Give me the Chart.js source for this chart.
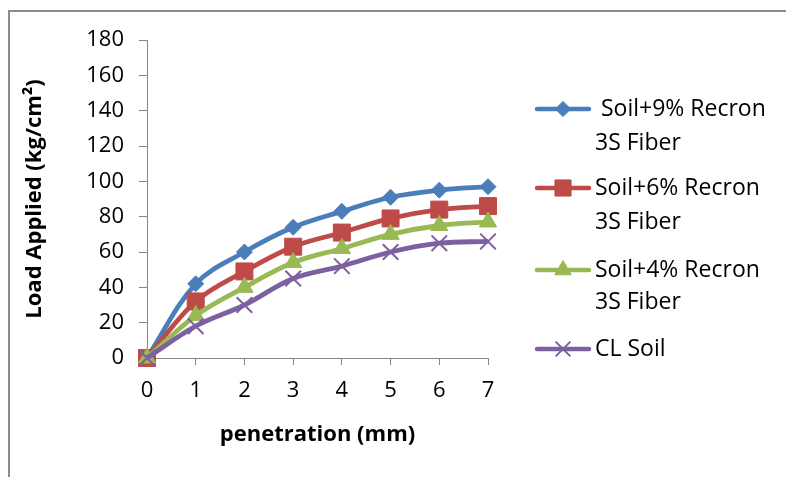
<!DOCTYPE html>
<html>
<head>
<meta charset="utf-8">
<script src="https://cdn.jsdelivr.net/npm/chart.js@4.4.1/dist/chart.umd.min.js"></script>
<style>
  html, body { margin: 0; padding: 0; background: #fff; }
  #wrap { width: 787px; height: 477px; position: relative; }
</style>
</head>
<body>
<div id="wrap"><canvas id="cbr"></canvas></div>
<script>
// penetration (mm)
const penetration = [0, 1, 2, 3, 4, 5, 6, 7];
// load applied (kg/cm2) for each mix
const recron9 = [0, 42, 60, 74, 83, 91, 95, 97];
const recron6 = [0, 32, 49, 63, 71, 79, 84, 86];
const recron4 = [0, 24, 40, 54, 62, 70, 75, 77];
const clSoil = [0, 18, 30, 45, 52, 60, 65, 66];
const seriesNames = [
  [' Soil+9% Recron', '3S Fiber'],
  ['Soil+6% Recron', '3S Fiber'],
  ['Soil+4% Recron', '3S Fiber'],
  ['CL Soil']
];
const yTicks = [0, 20, 40, 60, 80, 100, 120, 140, 160, 180];

const FONT = '"Open Sans", "Liberation Sans", sans-serif';
const axisGrey = '#868686';

function pts(vals) {
  return vals.map((v, i) => ({ x: penetration[i], y: v }));
}

const styles = [
  { color: '#4a7ebb', shape: 'rectRot', r: 8 },
  { color: '#be4b48', shape: 'rect', r: 12 },
  { color: '#98b954', shape: 'triangle', r: 10 },
  { color: '#7d60a0', shape: 'crossRot', r: 11 }
];
const allSeries = [recron9, recron6, recron4, clSoil];

const datasets = allSeries.map((vals, i) => ({
  label: seriesNames[i].join(' '),
  data: pts(vals),
  borderColor: styles[i].color,
  backgroundColor: styles[i].color,
  borderWidth: 4.8,
  tension: 0.35,
  pointStyle: styles[i].shape,
  pointRadius: styles[i].r,
  pointHoverRadius: styles[i].r,
  pointBorderWidth: styles[i].shape === 'crossRot' ? 2 : 1,
  pointBorderColor: styles[i].color,
  clip: false,
  order: 4 - i
}));

// frame line along top and left edge
const framePlugin = {
  id: 'frame',
  beforeDraw(chart) {
    const ctx = chart.ctx;
    ctx.save();
    ctx.strokeStyle = '#8c8c8c';
    ctx.lineWidth = 2;
    ctx.beginPath();
    ctx.moveTo(786, 11);
    ctx.lineTo(9, 11);
    ctx.lineTo(9, 477);
    ctx.stroke();
    ctx.restore();
  }
};

// legend on the right with wrapped labels
const sideLegend = {
  id: 'sideLegend',
  afterDraw(chart) {
    const ctx = chart.ctx;
    const rows = [[109, 143], [188, 222], [270, 302], [349]];
    ctx.save();
    ctx.font = '23px ' + FONT;
    ctx.textBaseline = 'middle';
    rows.forEach((ys, i) => {
      const st = styles[i];
      ctx.strokeStyle = st.color;
      ctx.lineWidth = 4.5;
      ctx.lineCap = 'round';
      ctx.beginPath();
      ctx.moveTo(537, ys[0]);
      ctx.lineTo(589, ys[0]);
      ctx.stroke();
      ctx.lineCap = 'butt';
      ctx.fillStyle = st.color;
      const bw = st.shape === 'crossRot' ? 2 : 1;
      ctx.lineWidth = bw;
      Chart.helpers.drawPoint(ctx, {
        pointStyle: st.shape,
        radius: st.r * 0.95,
        rotation: 0,
        borderWidth: bw
      }, 563, ys[0]);
      ctx.fillStyle = '#000';
      seriesNames[i].forEach((t, k) => {
        ctx.fillText(t, 595, ys[k]);
      });
    });
    ctx.restore();
  }
};

new Chart(document.getElementById('cbr'), {
  type: 'line',
  data: { datasets },
  plugins: [framePlugin, sideLegend],
  options: {
    responsive: true,
    maintainAspectRatio: false,
    animation: false,
    events: [],
    layout: { padding: { top: 40, right: 299, bottom: 29, left: 22 } },
    plugins: {
      legend: { display: false },
      tooltip: { enabled: false }
    },
    scales: {
      x: {
        type: 'linear',
        min: 0,
        max: 7,
        afterBuildTicks(scale) {
          scale.ticks = penetration.map(v => ({ value: v }));
        },
        afterFit(scale) { scale.height = 90; },
        border: { display: true, color: axisGrey, width: 1 },
        grid: { drawOnChartArea: false, drawTicks: true, tickLength: 7, color: axisGrey },
        ticks: { color: '#000', font: { family: FONT, size: 22 }, padding: 13 },
        title: {
          display: true,
          text: 'penetration (mm)',
          color: '#000',
          font: { family: FONT, size: 22, weight: 'bold' },
          padding: { top: 0, bottom: 0 }
        }
      },
      y: {
        min: 0,
        max: 180,
        afterBuildTicks(scale) {
          scale.ticks = yTicks.map(v => ({ value: v }));
        },
        afterFit(scale) { scale.width = 125; },
        border: { display: true, color: axisGrey, width: 1 },
        grid: { drawOnChartArea: false, drawTicks: true, tickLength: 8, color: axisGrey },
        ticks: { color: '#000', font: { family: FONT, size: 22 }, padding: 15 },
        title: {
          display: true,
          text: 'Load Applied (kg/cm²)',
          color: '#000',
          font: { family: FONT, size: 22, weight: 'bold' },
          padding: { top: 0, bottom: 0 }
        }
      }
    }
  }
});
</script>
</body>
</html>
